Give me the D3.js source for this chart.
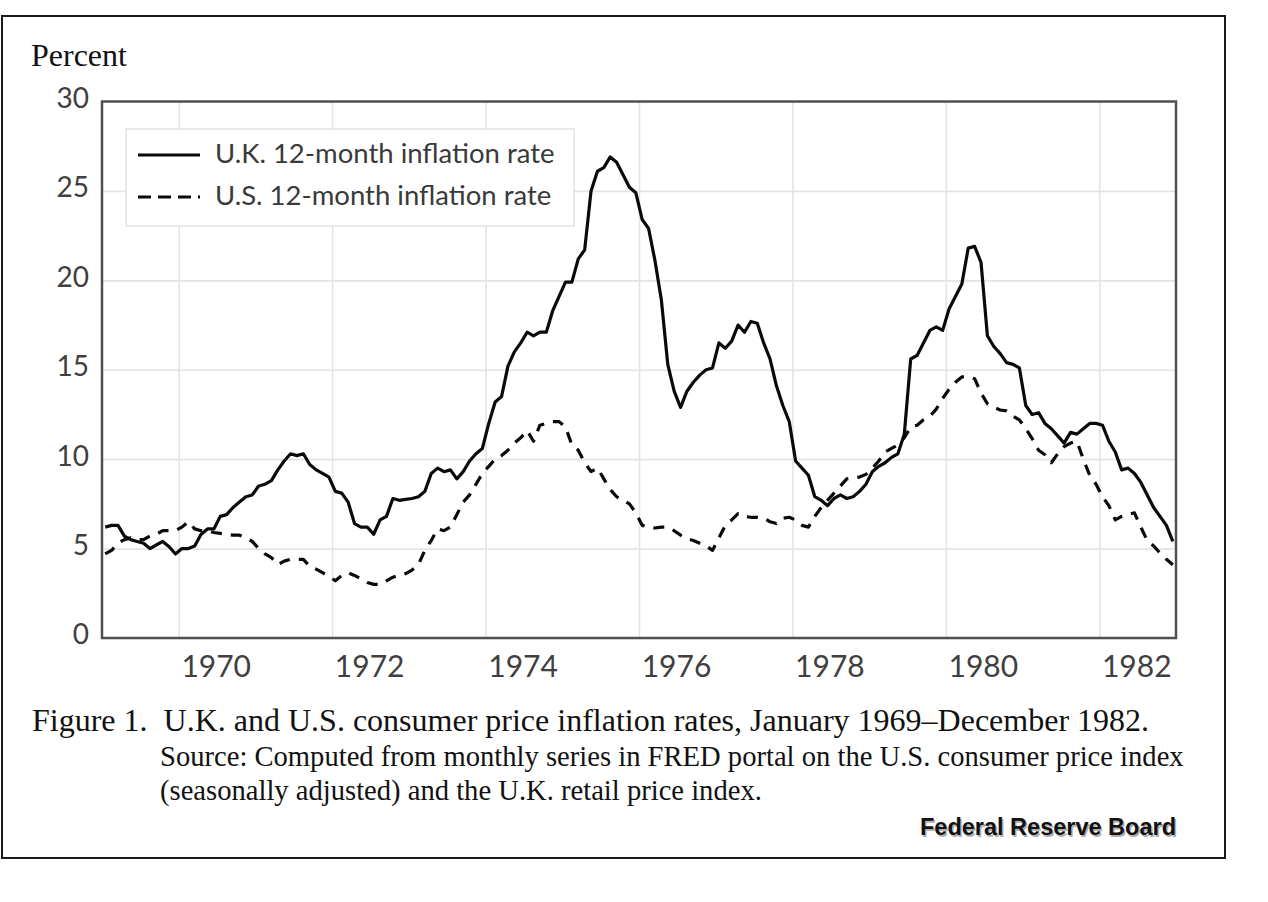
<!DOCTYPE html>
<html>
<head>
<meta charset="utf-8">
<script src="https://cdn.jsdelivr.net/npm/d3@7"></script>
<style>
  html, body { margin: 0; padding: 0; background: #fff; }
  svg { display: block; }
</style>
</head>
<body>
<svg id="chart" width="1268" height="902"></svg>
<script>
// ---------------- DATA (monthly, Jan 1969 - Dec 1982) ----------------
const ukRate = [
  // 1969
  6.2, 6.3, 6.3, 5.7, 5.5, 5.4, 5.3, 5.0, 5.2, 5.4, 5.1, 4.7,
  // 1970
  5.0, 5.0, 5.15, 5.8, 6.1, 6.1, 6.8, 6.9, 7.3, 7.6, 7.9, 8.0,
  // 1971
  8.5, 8.6, 8.8, 9.4, 9.9, 10.3, 10.2, 10.3, 9.7, 9.4, 9.2, 9.0,
  // 1972
  8.2, 8.1, 7.6, 6.4, 6.2, 6.2, 5.8, 6.6, 6.8, 7.8, 7.7, 7.75,
  // 1973
  7.8, 7.9, 8.2, 9.2, 9.5, 9.3, 9.4, 8.9, 9.3, 9.9, 10.3, 10.6,
  // 1974
  12.0, 13.2, 13.5, 15.2, 16.0, 16.5, 17.1, 16.9, 17.1, 17.1, 18.3, 19.1,
  // 1975
  19.9, 19.9, 21.2, 21.7, 25.0, 26.1, 26.3, 26.9, 26.6, 25.9, 25.2, 24.9,
  // 1976
  23.4, 22.9, 21.1, 18.9, 15.3, 13.8, 12.9, 13.8, 14.3, 14.7, 15.0, 15.1,
  // 1977
  16.5, 16.2, 16.6, 17.5, 17.1, 17.7, 17.6, 16.5, 15.6, 14.1, 13.0, 12.1,
  // 1978
  9.9, 9.5, 9.1, 7.9, 7.7, 7.4, 7.8, 8.0, 7.8, 7.9, 8.2, 8.6,
  // 1979
  9.3, 9.6, 9.8, 10.1, 10.3, 11.4, 15.6, 15.8, 16.5, 17.2, 17.4, 17.2,
  // 1980
  18.4, 19.1, 19.8, 21.8, 21.9, 21.0, 16.9, 16.3, 15.9, 15.4, 15.3, 15.1,
  // 1981
  13.0, 12.5, 12.6, 12.0, 11.7, 11.3, 10.9, 11.5, 11.4, 11.7, 12.0, 12.0,
  // 1982
  11.9, 11.0, 10.4, 9.4, 9.5, 9.2, 8.7, 8.0, 7.3, 6.8, 6.3, 5.4
];

const usRate = [
  // 1969
  4.7, 4.9, 5.3, 5.5, 5.6, 5.5, 5.5, 5.7, 5.8, 6.0, 6.0, 6.0,
  // 1970
  6.2, 6.5, 6.1, 6.0, 6.0, 5.9, 5.85, 5.8, 5.75, 5.75, 5.6, 5.4,
  // 1971
  5.0, 4.7, 4.5, 4.1, 4.3, 4.4, 4.4, 4.4, 4.0, 3.85, 3.65, 3.45,
  // 1972
  3.2, 3.5, 3.65, 3.5, 3.3, 3.1, 3.0, 3.0, 3.2, 3.4, 3.5, 3.6,
  // 1973
  3.8, 4.1, 4.9, 5.45, 6.1, 6.0, 6.2, 6.9, 7.6, 8.0, 8.6, 9.2,
  // 1974
  9.6, 10.0, 10.2, 10.5, 10.9, 11.2, 11.6, 11.0, 11.9, 12.0, 12.1, 12.1,
  // 1975
  11.8, 10.8, 10.5, 9.8, 9.3, 9.5, 8.9, 8.3, 7.9, 7.7, 7.5, 7.0,
  // 1976
  6.3, 6.2, 6.15, 6.2, 6.2, 6.0, 5.75, 5.55, 5.45, 5.3, 5.15, 4.9,
  // 1977
  5.6, 6.3, 6.6, 6.95, 6.8, 6.75, 6.75, 6.7, 6.5, 6.4, 6.7, 6.75,
  // 1978
  6.6, 6.3, 6.2, 6.8, 7.3, 7.7, 8.1, 8.5, 8.9, 8.95, 9.0, 9.15,
  // 1979
  9.5, 9.9, 10.4, 10.6, 10.8, 11.2, 11.8, 11.9, 12.2, 12.4, 12.8, 13.4,
  // 1980
  13.9, 14.3, 14.6, 14.6, 14.5, 13.7, 13.1, 12.9, 12.75, 12.7, 12.4, 12.2,
  // 1981
  11.7, 11.15, 10.5, 10.25, 9.8, 10.3, 10.7, 10.9, 11.0, 10.0, 9.1, 8.6,
  // 1982
  7.9, 7.4, 6.6, 6.8, 6.9, 7.0, 6.2, 5.45, 5.15, 4.75, 4.4, 4.1
];

const firstYear = 1969;
const yTicks = [0, 5, 10, 15, 20, 25, 30];
const xTickYears = [1970, 1972, 1974, 1976, 1978, 1980, 1982];
const seriesNames = ["U.K. 12-month inflation rate", "U.S. 12-month inflation rate"];
const captionTitle = "Figure 1.  U.K. and U.S. consumer price inflation rates, January 1969\u2013December 1982.";
const captionSource = [
  "Source: Computed from monthly series in FRED portal on the U.S. consumer price index",
  "(seasonally adjusted) and the U.K. retail price index."
];
const credit = "Federal Reserve Board";

// ---------------- LAYOUT ----------------
const svg = d3.select("#chart");
const L = 102, R = 1176, T = 101.5, B = 638;
const nMonths = ukRate.length;

svg.append("rect").attr("x", 0).attr("y", 0).attr("width", 1268).attr("height", 902).attr("fill", "#fff");

// outer frame
svg.append("rect")
  .attr("x", 2).attr("y", 16).attr("width", 1223).attr("height", 842)
  .attr("fill", "none").attr("stroke", "#1a1a1a").attr("stroke-width", 2);

const x = d3.scaleLinear().domain([0, nMonths]).range([L, R]);
const y = d3.scaleLinear().domain([0, 30]).range([B, T]);

const labelFont = "Lato, 'Open Sans', sans-serif";
const labelColor = "#404040";

// vertical gridlines + year labels
const xAxis = d3.axisBottom(x)
  .tickValues(xTickYears.map(yr => (yr - firstYear) * 12))
  .tickSize(-(B - T))
  .tickPadding(0)
  .tickFormat(i => String(firstYear + i / 12));
const gx = svg.append("g").attr("transform", `translate(0,${B})`).call(xAxis);
gx.select(".domain").remove();
gx.selectAll(".tick line").attr("stroke", "#e4e4e4").attr("stroke-width", 1.6);
gx.selectAll(".tick text")
  .attr("fill", labelColor)
  .attr("font-family", labelFont)
  .attr("font-size", 30)
  .attr("dy", null)
  .attr("y", 39)
  .attr("dx", 37);

// horizontal gridlines + value labels
const yAxis = d3.axisLeft(y)
  .tickValues(yTicks)
  .tickSize(-(R - L))
  .tickPadding(13)
  .tickFormat(d3.format("d"));
const gy = svg.append("g").attr("transform", `translate(${L},0)`).call(yAxis);
gy.select(".domain").remove();
gy.selectAll(".tick line").attr("stroke", "#e4e4e4").attr("stroke-width", 1.6);
gy.selectAll(".tick text")
  .attr("fill", labelColor)
  .attr("font-family", labelFont)
  .attr("font-size", 28)
  .attr("dy", "0.32em")
  .attr("y", -3);

// plot border
svg.append("rect")
  .attr("x", L).attr("y", T).attr("width", R - L).attr("height", B - T)
  .attr("fill", "none").attr("stroke", "#505050").attr("stroke-width", 2.5);

// lines
const line = d3.line()
  .x((d, i) => x(i + 0.5))
  .y(d => y(d));

svg.append("path")
  .datum(usRate)
  .attr("d", line)
  .attr("fill", "none")
  .attr("stroke", "#0a0a0a")
  .attr("stroke-width", 3.2)
  .attr("stroke-dasharray", "11,9")
  .attr("stroke-linejoin", "round");

svg.append("path")
  .datum(ukRate)
  .attr("d", line)
  .attr("fill", "none")
  .attr("stroke", "#0a0a0a")
  .attr("stroke-width", 3.2)
  .attr("stroke-linejoin", "round");

// legend
const lg = svg.append("g");
lg.append("rect")
  .attr("x", 126).attr("y", 129).attr("width", 448).attr("height", 97)
  .attr("fill", "#fff").attr("stroke", "#e2e2e2").attr("stroke-width", 1.5);
const legendRows = [
  { name: seriesNames[0], dash: null, yy: 155 },
  { name: seriesNames[1], dash: "13,7", yy: 197 }
];
legendRows.forEach(r => {
  lg.append("line")
    .attr("x1", 138).attr("x2", 200).attr("y1", r.yy).attr("y2", r.yy)
    .attr("stroke", "#0a0a0a").attr("stroke-width", 3.2)
    .attr("stroke-dasharray", r.dash);
  lg.append("text")
    .attr("x", 215).attr("y", r.yy + 8)
    .attr("font-family", labelFont).attr("font-size", 27.5)
    .attr("fill", "#3a3a3a")
    .text(r.name);
});

// y axis title
const serif = "'Liberation Serif', 'Times New Roman', serif";
svg.append("text")
  .attr("x", 31).attr("y", 66)
  .attr("font-family", serif)
  .attr("font-size", 32)
  .attr("fill", "#111")
  .text("Percent");

// caption
svg.append("text")
  .attr("x", 32).attr("y", 731)
  .attr("font-family", serif).attr("font-size", 32).attr("fill", "#111")
  .attr("xml:space", "preserve")
  .style("white-space", "pre")
  .text(captionTitle);
captionSource.forEach((t, k) => {
  svg.append("text")
    .attr("x", 160).attr("y", 766 + k * 34)
    .attr("font-family", serif).attr("font-size", 28.6).attr("fill", "#111")
    .text(t);
});

// credit with shadow
const sans = "'Liberation Sans', Arial, sans-serif";
svg.append("text")
  .attr("x", 1177.5).attr("y", 836.5)
  .attr("text-anchor", "end")
  .attr("font-family", sans).attr("font-weight", "bold").attr("font-size", 23.5)
  .attr("fill", "#b0b0b0")
  .text(credit);
svg.append("text")
  .attr("x", 1176).attr("y", 835)
  .attr("text-anchor", "end")
  .attr("font-family", sans).attr("font-weight", "bold").attr("font-size", 23.5)
  .attr("fill", "#111")
  .text(credit);
</script>
</body>
</html>
